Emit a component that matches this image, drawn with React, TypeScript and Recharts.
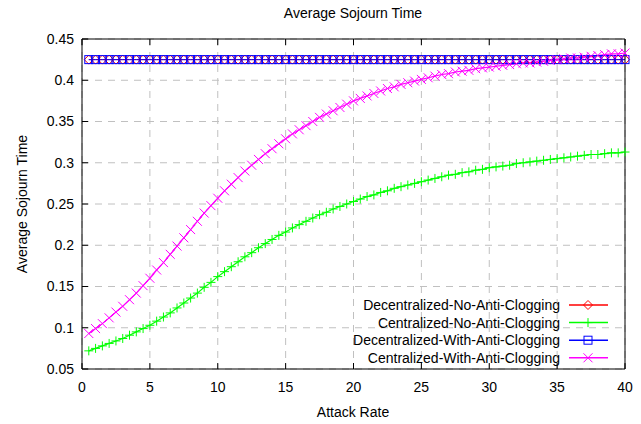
import React from 'react';
import { LineChart, Line, XAxis, YAxis, CartesianGrid, Legend } from 'recharts';

const attackRate = [
  0.5, 1, 1.5, 2, 2.5, 3, 3.5, 4, 4.5, 5, 5.5, 6, 6.5, 7, 7.5, 8, 8.5, 9, 9.5, 10,
  10.5, 11, 11.5, 12, 12.5, 13, 13.5, 14, 14.5, 15, 15.5, 16, 16.5, 17, 17.5, 18, 18.5, 19, 19.5, 20,
  20.5, 21, 21.5, 22, 22.5, 23, 23.5, 24, 24.5, 25, 25.5, 26, 26.5, 27, 27.5, 28, 28.5, 29, 29.5, 30,
  30.5, 31, 31.5, 32, 32.5, 33, 33.5, 34, 34.5, 35, 35.5, 36, 36.5, 37, 37.5, 38, 38.5, 39, 39.5, 40,
];

const decentralizedNoAC = [
  0.425, 0.425, 0.425, 0.425, 0.425, 0.425, 0.425, 0.425, 0.425, 0.425, 0.425, 0.425, 0.425, 0.425, 0.425, 0.425, 0.425, 0.425, 0.425, 0.425,
  0.425, 0.425, 0.425, 0.425, 0.425, 0.425, 0.425, 0.425, 0.425, 0.425, 0.425, 0.425, 0.425, 0.425, 0.425, 0.425, 0.425, 0.425, 0.425, 0.425,
  0.425, 0.425, 0.425, 0.425, 0.425, 0.425, 0.425, 0.425, 0.425, 0.425, 0.425, 0.425, 0.425, 0.425, 0.425, 0.425, 0.425, 0.425, 0.425, 0.425,
  0.425, 0.425, 0.425, 0.425, 0.425, 0.425, 0.425, 0.425, 0.425, 0.425, 0.425, 0.425, 0.425, 0.425, 0.425, 0.425, 0.425, 0.425, 0.425, 0.425,
];

const centralizedNoAC = [
  0.072, 0.075, 0.078, 0.081, 0.084, 0.087, 0.091, 0.095, 0.099, 0.103, 0.108, 0.113, 0.118, 0.124, 0.130, 0.136, 0.142, 0.149, 0.155, 0.162,
  0.168, 0.174, 0.180, 0.186, 0.191, 0.197, 0.202, 0.207, 0.212, 0.216, 0.221, 0.225, 0.229, 0.233, 0.237, 0.240, 0.244, 0.247, 0.250, 0.253,
  0.256, 0.259, 0.261, 0.264, 0.266, 0.269, 0.271, 0.273, 0.275, 0.277, 0.279, 0.281, 0.283, 0.285, 0.286, 0.288, 0.289, 0.291, 0.292, 0.294,
  0.295, 0.296, 0.297, 0.299, 0.300, 0.301, 0.302, 0.303, 0.304, 0.305, 0.306, 0.307, 0.308, 0.309, 0.310, 0.310, 0.311, 0.312, 0.312, 0.313,
];

const decentralizedWithAC = [
  0.425, 0.425, 0.425, 0.425, 0.425, 0.425, 0.425, 0.425, 0.425, 0.425, 0.425, 0.425, 0.425, 0.425, 0.425, 0.425, 0.425, 0.425, 0.425, 0.425,
  0.425, 0.425, 0.425, 0.425, 0.425, 0.425, 0.425, 0.425, 0.425, 0.425, 0.425, 0.425, 0.425, 0.425, 0.425, 0.425, 0.425, 0.425, 0.425, 0.425,
  0.425, 0.425, 0.425, 0.425, 0.425, 0.425, 0.425, 0.425, 0.425, 0.425, 0.425, 0.425, 0.425, 0.425, 0.425, 0.425, 0.425, 0.425, 0.425, 0.425,
  0.425, 0.425, 0.425, 0.425, 0.425, 0.425, 0.425, 0.425, 0.425, 0.425, 0.425, 0.425, 0.425, 0.425, 0.425, 0.425, 0.425, 0.425, 0.425, 0.425,
];

const centralizedWithAC = [
  0.093, 0.099, 0.105, 0.112, 0.119, 0.126, 0.134, 0.142, 0.151, 0.160, 0.170, 0.179, 0.189, 0.199, 0.209, 0.219, 0.229, 0.239, 0.248, 0.257,
  0.266, 0.274, 0.282, 0.290, 0.297, 0.304, 0.311, 0.317, 0.323, 0.329, 0.335, 0.340, 0.345, 0.350, 0.355, 0.359, 0.363, 0.367, 0.371, 0.375,
  0.378, 0.381, 0.384, 0.387, 0.390, 0.392, 0.395, 0.397, 0.399, 0.401, 0.403, 0.405, 0.407, 0.408, 0.410, 0.411, 0.412, 0.414, 0.415, 0.416,
  0.417, 0.418, 0.419, 0.420, 0.421, 0.421, 0.422, 0.423, 0.424, 0.425, 0.426, 0.427, 0.427, 0.428, 0.429, 0.430, 0.431, 0.432, 0.432, 0.433,
];

const xTicks = [0, 5, 10, 15, 20, 25, 30, 35, 40];
const yTicks = [0.05, 0.1, 0.15, 0.2, 0.25, 0.3, 0.35, 0.4, 0.45];
const yTickLabels = ['0.05', '0.1', '0.15', '0.2', '0.25', '0.3', '0.35', '0.4', '0.45'];

const seriesNames = [
  'Decentralized-No-Anti-Clogging',
  'Centralized-No-Anti-Clogging',
  'Decentralized-With-Anti-Clogging',
  'Centralized-With-Anti-Clogging',
];

const data = attackRate.map((x, i) => ({
  x,
  dNo: decentralizedNoAC[i],
  cNo: centralizedNoAC[i],
  dWith: decentralizedWithAC[i],
  cWith: centralizedWithAC[i],
}));

const FONT = '"Liberation Sans", Arial, sans-serif';
const COLORS = ['#ff0000', '#00ff00', '#0000ff', '#ff00ff'];

type Shape = 'diamond' | 'plus' | 'square' | 'cross';
const SHAPES: Shape[] = ['diamond', 'plus', 'square', 'cross'];

function marker(shape: Shape, cx: number, cy: number, color: string, key?: string) {
  const s = 4.5;
  if (shape === 'diamond') {
    return <path key={key} d={`M${cx},${cy - s}L${cx + s},${cy}L${cx},${cy + s}L${cx - s},${cy}Z`} fill="none" stroke={color} strokeWidth={1} />;
  }
  if (shape === 'square') {
    return <rect key={key} x={cx - 4} y={cy - 4} width={8} height={8} fill="none" stroke={color} strokeWidth={1} />;
  }
  if (shape === 'plus') {
    return <path key={key} d={`M${cx - s},${cy}H${cx + s}M${cx},${cy - s}V${cy + s}`} stroke={color} strokeWidth={1} />;
  }
  return <path key={key} d={`M${cx - s},${cy - s}L${cx + s},${cy + s}M${cx - s},${cy + s}L${cx + s},${cy - s}`} stroke={color} strokeWidth={1} />;
}

const makeDot = (shape: Shape, color: string) => (p: any) => {
  if (p.cx == null || p.cy == null) return <g key={`e-${p.index}`} />;
  return marker(shape, p.cx, p.cy, color, `${shape}-${p.index}`);
};

// gnuplot style: ticks point into the plot, labels outside
const LeftTick = (p: any) => (
  <g>
    <line x1={p.x} x2={p.x + 6} y1={p.y} y2={p.y} stroke="#000" />
    <text x={p.x - 8} y={p.y} dy="0.35em" textAnchor="end" fontSize={14} fontFamily={FONT} fill="#000">
      {yTickLabels[p.index]}
    </text>
  </g>
);

const RightTick = (p: any) => <line x1={p.x - 6} x2={p.x} y1={p.y} y2={p.y} stroke="#000" />;

const BottomTick = (p: any) => (
  <g>
    <line x1={p.x} x2={p.x} y1={p.y - 6} y2={p.y} stroke="#000" />
    <text x={p.x} y={p.y + 13} dy="0.71em" textAnchor="middle" fontSize={14} fontFamily={FONT} fill="#000">
      {p.payload.value}
    </text>
  </g>
);

const TopTick = (p: any) => <line x1={p.x} x2={p.x} y1={p.y} y2={p.y + 6} stroke="#000" />;

const LegendBox = () => (
  <svg width={280} height={72} style={{ display: 'block' }}>
    {seriesNames.map((name, i) => {
      const y = 10 + i * 17.6;
      return (
        <g key={name}>
          <text x={220} y={y} dy="0.35em" textAnchor="end" fontSize={14} fontFamily={FONT} fill="#000">
            {name}
          </text>
          <line x1={229} x2={268} y1={y} y2={y} stroke={COLORS[i]} strokeWidth={1.5} />
          {marker(SHAPES[i], 248, y, COLORS[i])}
        </g>
      );
    })}
  </svg>
);

export default function App() {
  return (
    <div style={{ position: 'absolute', left: 0, top: 0, width: 641, height: 424, background: '#fff' }}>
      <LineChart width={641} height={424} data={data} margin={{ top: 38, right: 15, bottom: 54, left: 81 }}>
        <CartesianGrid stroke="#c0c0c0" strokeDasharray="7 6" />
        <XAxis
          dataKey="x"
          type="number"
          domain={[0, 40]}
          ticks={xTicks}
          interval={0}
          height={1}
          tickSize={0}
          tickMargin={0}
          tickLine={false}
          axisLine={{ stroke: '#000' }}
          tick={BottomTick}
        />
        <XAxis
          xAxisId="top"
          orientation="top"
          dataKey="x"
          type="number"
          domain={[0, 40]}
          ticks={xTicks}
          interval={0}
          height={1}
          tickSize={0}
          tickMargin={0}
          tickLine={false}
          axisLine={{ stroke: '#000' }}
          tick={TopTick}
        />
        <YAxis
          type="number"
          domain={[0.05, 0.45]}
          ticks={yTicks}
          interval={0}
          width={1}
          tickSize={0}
          tickMargin={0}
          tickLine={false}
          axisLine={{ stroke: '#000' }}
          tick={LeftTick}
        />
        <YAxis
          yAxisId="right"
          orientation="right"
          type="number"
          domain={[0.05, 0.45]}
          ticks={yTicks}
          interval={0}
          width={1}
          tickSize={0}
          tickMargin={0}
          tickLine={false}
          axisLine={{ stroke: '#000' }}
          tick={RightTick}
        />
        <Line dataKey="dNo" stroke={COLORS[0]} strokeWidth={1} dot={makeDot('diamond', COLORS[0])} isAnimationActive={false} type="linear" />
        <Line dataKey="cNo" stroke={COLORS[1]} strokeWidth={1.2} dot={makeDot('plus', COLORS[1])} isAnimationActive={false} type="linear" />
        <Line dataKey="dWith" stroke={COLORS[2]} strokeWidth={1} dot={makeDot('square', COLORS[2])} isAnimationActive={false} type="linear" />
        <Line dataKey="cWith" stroke={COLORS[3]} strokeWidth={1.2} dot={makeDot('cross', COLORS[3])} isAnimationActive={false} type="linear" />
        <Legend
          layout="horizontal"
          align="center"
          verticalAlign="middle"
          content={LegendBox}
          wrapperStyle={{ position: 'absolute', left: 340, top: 295, width: 280, height: 72 }}
        />
      </LineChart>
      <svg width={641} height={424} style={{ position: 'absolute', left: 0, top: 0, pointerEvents: 'none' }}>
        <text x={353} y={13} dy="0.35em" textAnchor="middle" fontSize={14} fontFamily={FONT} fill="#000">
          Average Sojourn Time
        </text>
        <text x={353} y={412} dy="0.35em" textAnchor="middle" fontSize={14} fontFamily={FONT} fill="#000">
          Attack Rate
        </text>
        <text
          x={22}
          y={204}
          dy="0.35em"
          textAnchor="middle"
          fontSize={14}
          fontFamily={FONT}
          fill="#000"
          transform="rotate(-90 22 204)"
        >
          Average Sojourn Time
        </text>
      </svg>
    </div>
  );
}
